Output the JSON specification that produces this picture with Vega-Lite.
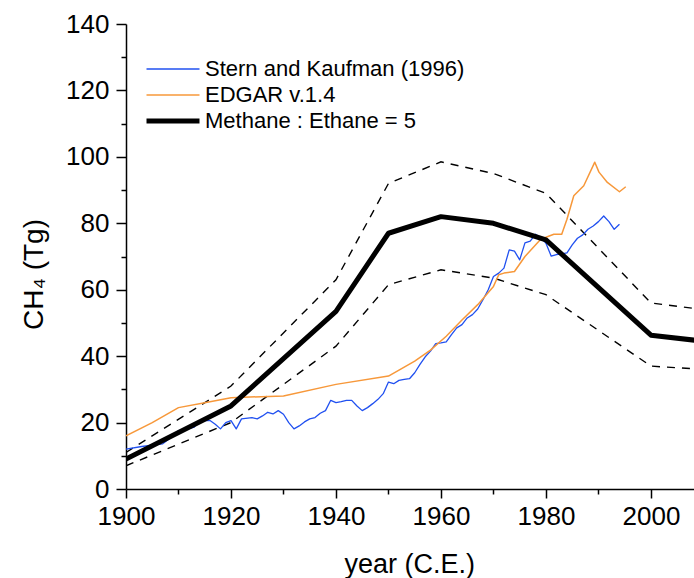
{
  "$schema": "https://vega.github.io/schema/vega-lite/v6.json",
  "width": 568,
  "height": 465,
  "autosize": {"type": "none"},
  "padding": {"left": 126, "top": 24, "right": 0, "bottom": 89},
  "background": "white",
  "config": {
    "view": {"stroke": null},
    "font": "Liberation Sans",
    "axis": {
      "grid": false,
      "domainColor": "black",
      "domainWidth": 1.5,
      "tickColor": "black",
      "tickWidth": 1.5,
      "labelFont": "Liberation Sans",
      "labelFontSize": 26,
      "labelColor": "black",
      "titleFont": "Liberation Sans",
      "titleFontSize": 27,
      "titleFontWeight": "normal",
      "titleColor": "black"
    }
  },
  "datasets": {
    "series": [
      {"series": "Stern and Kaufman (1996)", "year": 1900, "value": 12},
      {"series": "Stern and Kaufman (1996)", "year": 1903, "value": 12.8},
      {"series": "Stern and Kaufman (1996)", "year": 1905, "value": 13.2},
      {"series": "Stern and Kaufman (1996)", "year": 1907, "value": 13.6},
      {"series": "Stern and Kaufman (1996)", "year": 1909, "value": 16},
      {"series": "Stern and Kaufman (1996)", "year": 1910, "value": 17.6},
      {"series": "Stern and Kaufman (1996)", "year": 1912, "value": 18.2},
      {"series": "Stern and Kaufman (1996)", "year": 1913, "value": 18.6},
      {"series": "Stern and Kaufman (1996)", "year": 1914, "value": 20.6},
      {"series": "Stern and Kaufman (1996)", "year": 1916, "value": 20.6},
      {"series": "Stern and Kaufman (1996)", "year": 1917, "value": 19.5},
      {"series": "Stern and Kaufman (1996)", "year": 1918, "value": 18.1},
      {"series": "Stern and Kaufman (1996)", "year": 1919, "value": 20},
      {"series": "Stern and Kaufman (1996)", "year": 1920, "value": 20.6},
      {"series": "Stern and Kaufman (1996)", "year": 1921, "value": 18.1},
      {"series": "Stern and Kaufman (1996)", "year": 1922, "value": 21.1},
      {"series": "Stern and Kaufman (1996)", "year": 1924, "value": 21.5},
      {"series": "Stern and Kaufman (1996)", "year": 1925, "value": 21.1},
      {"series": "Stern and Kaufman (1996)", "year": 1926, "value": 22},
      {"series": "Stern and Kaufman (1996)", "year": 1927, "value": 23.1},
      {"series": "Stern and Kaufman (1996)", "year": 1928, "value": 22.6},
      {"series": "Stern and Kaufman (1996)", "year": 1929, "value": 23.6},
      {"series": "Stern and Kaufman (1996)", "year": 1930, "value": 22.5},
      {"series": "Stern and Kaufman (1996)", "year": 1931, "value": 20},
      {"series": "Stern and Kaufman (1996)", "year": 1932, "value": 18.1},
      {"series": "Stern and Kaufman (1996)", "year": 1933, "value": 19},
      {"series": "Stern and Kaufman (1996)", "year": 1934, "value": 20.2},
      {"series": "Stern and Kaufman (1996)", "year": 1935, "value": 21.1},
      {"series": "Stern and Kaufman (1996)", "year": 1936, "value": 21.5},
      {"series": "Stern and Kaufman (1996)", "year": 1937, "value": 22.8},
      {"series": "Stern and Kaufman (1996)", "year": 1938, "value": 23.6},
      {"series": "Stern and Kaufman (1996)", "year": 1939, "value": 26.7},
      {"series": "Stern and Kaufman (1996)", "year": 1940, "value": 26},
      {"series": "Stern and Kaufman (1996)", "year": 1941, "value": 26.3},
      {"series": "Stern and Kaufman (1996)", "year": 1942, "value": 26.7},
      {"series": "Stern and Kaufman (1996)", "year": 1943, "value": 26.7},
      {"series": "Stern and Kaufman (1996)", "year": 1944, "value": 25},
      {"series": "Stern and Kaufman (1996)", "year": 1945, "value": 23.6},
      {"series": "Stern and Kaufman (1996)", "year": 1946, "value": 24.5},
      {"series": "Stern and Kaufman (1996)", "year": 1947, "value": 25.7},
      {"series": "Stern and Kaufman (1996)", "year": 1948, "value": 27},
      {"series": "Stern and Kaufman (1996)", "year": 1949, "value": 28.7},
      {"series": "Stern and Kaufman (1996)", "year": 1950, "value": 32.2},
      {"series": "Stern and Kaufman (1996)", "year": 1951, "value": 31.7},
      {"series": "Stern and Kaufman (1996)", "year": 1952, "value": 32.7},
      {"series": "Stern and Kaufman (1996)", "year": 1953, "value": 33},
      {"series": "Stern and Kaufman (1996)", "year": 1954, "value": 33.2},
      {"series": "Stern and Kaufman (1996)", "year": 1955, "value": 35},
      {"series": "Stern and Kaufman (1996)", "year": 1956, "value": 37.5},
      {"series": "Stern and Kaufman (1996)", "year": 1957, "value": 39.8},
      {"series": "Stern and Kaufman (1996)", "year": 1958, "value": 41.5},
      {"series": "Stern and Kaufman (1996)", "year": 1959, "value": 43.8},
      {"series": "Stern and Kaufman (1996)", "year": 1960, "value": 44},
      {"series": "Stern and Kaufman (1996)", "year": 1961, "value": 44.3},
      {"series": "Stern and Kaufman (1996)", "year": 1962, "value": 46.5},
      {"series": "Stern and Kaufman (1996)", "year": 1963, "value": 48.5},
      {"series": "Stern and Kaufman (1996)", "year": 1964, "value": 49.5},
      {"series": "Stern and Kaufman (1996)", "year": 1965, "value": 51.5},
      {"series": "Stern and Kaufman (1996)", "year": 1966, "value": 52.5},
      {"series": "Stern and Kaufman (1996)", "year": 1967, "value": 54.2},
      {"series": "Stern and Kaufman (1996)", "year": 1968, "value": 57},
      {"series": "Stern and Kaufman (1996)", "year": 1969, "value": 60},
      {"series": "Stern and Kaufman (1996)", "year": 1970, "value": 64},
      {"series": "Stern and Kaufman (1996)", "year": 1971, "value": 65},
      {"series": "Stern and Kaufman (1996)", "year": 1972, "value": 66.5},
      {"series": "Stern and Kaufman (1996)", "year": 1973, "value": 72},
      {"series": "Stern and Kaufman (1996)", "year": 1974, "value": 71.6},
      {"series": "Stern and Kaufman (1996)", "year": 1975, "value": 69},
      {"series": "Stern and Kaufman (1996)", "year": 1976, "value": 74.1},
      {"series": "Stern and Kaufman (1996)", "year": 1977, "value": 74.6},
      {"series": "Stern and Kaufman (1996)", "year": 1978, "value": 76.7},
      {"series": "Stern and Kaufman (1996)", "year": 1979, "value": 75.7},
      {"series": "Stern and Kaufman (1996)", "year": 1980, "value": 74},
      {"series": "Stern and Kaufman (1996)", "year": 1981, "value": 70.1},
      {"series": "Stern and Kaufman (1996)", "year": 1982, "value": 70.6},
      {"series": "Stern and Kaufman (1996)", "year": 1983, "value": 70.8},
      {"series": "Stern and Kaufman (1996)", "year": 1984, "value": 71.1},
      {"series": "Stern and Kaufman (1996)", "year": 1985, "value": 73.5},
      {"series": "Stern and Kaufman (1996)", "year": 1986, "value": 75.5},
      {"series": "Stern and Kaufman (1996)", "year": 1987, "value": 76.5},
      {"series": "Stern and Kaufman (1996)", "year": 1988, "value": 78.2},
      {"series": "Stern and Kaufman (1996)", "year": 1989, "value": 79.2},
      {"series": "Stern and Kaufman (1996)", "year": 1990, "value": 80.5},
      {"series": "Stern and Kaufman (1996)", "year": 1991, "value": 82.2},
      {"series": "Stern and Kaufman (1996)", "year": 1992, "value": 80.5},
      {"series": "Stern and Kaufman (1996)", "year": 1993, "value": 78.2},
      {"series": "Stern and Kaufman (1996)", "year": 1994, "value": 79.7},
      {"series": "EDGAR v.1.4", "year": 1900, "value": 16},
      {"series": "EDGAR v.1.4", "year": 1905, "value": 20},
      {"series": "EDGAR v.1.4", "year": 1910, "value": 24.5},
      {"series": "EDGAR v.1.4", "year": 1915, "value": 26},
      {"series": "EDGAR v.1.4", "year": 1920, "value": 27.5},
      {"series": "EDGAR v.1.4", "year": 1930, "value": 28},
      {"series": "EDGAR v.1.4", "year": 1940, "value": 31.5},
      {"series": "EDGAR v.1.4", "year": 1950, "value": 34},
      {"series": "EDGAR v.1.4", "year": 1952, "value": 35.8},
      {"series": "EDGAR v.1.4", "year": 1955, "value": 38.5},
      {"series": "EDGAR v.1.4", "year": 1958, "value": 41.8},
      {"series": "EDGAR v.1.4", "year": 1961, "value": 46},
      {"series": "EDGAR v.1.4", "year": 1964, "value": 50.9},
      {"series": "EDGAR v.1.4", "year": 1967, "value": 55.5},
      {"series": "EDGAR v.1.4", "year": 1970, "value": 61},
      {"series": "EDGAR v.1.4", "year": 1971, "value": 64.5},
      {"series": "EDGAR v.1.4", "year": 1972, "value": 65},
      {"series": "EDGAR v.1.4", "year": 1974, "value": 65.5},
      {"series": "EDGAR v.1.4", "year": 1976, "value": 70},
      {"series": "EDGAR v.1.4", "year": 1979, "value": 75.2},
      {"series": "EDGAR v.1.4", "year": 1981.5, "value": 76.7},
      {"series": "EDGAR v.1.4", "year": 1983, "value": 76.7},
      {"series": "EDGAR v.1.4", "year": 1984, "value": 81.2},
      {"series": "EDGAR v.1.4", "year": 1985.3, "value": 88.3},
      {"series": "EDGAR v.1.4", "year": 1987.2, "value": 91.3},
      {"series": "EDGAR v.1.4", "year": 1989.3, "value": 98.4},
      {"series": "EDGAR v.1.4", "year": 1990.1, "value": 95.4},
      {"series": "EDGAR v.1.4", "year": 1991.7, "value": 92.3},
      {"series": "EDGAR v.1.4", "year": 1994, "value": 89.5},
      {"series": "EDGAR v.1.4", "year": 1995.2, "value": 91},
      {"series": "Methane : Ethane = 5", "year": 1900, "value": 9},
      {"series": "Methane : Ethane = 5", "year": 1920, "value": 25},
      {"series": "Methane : Ethane = 5", "year": 1940, "value": 53.5},
      {"series": "Methane : Ethane = 5", "year": 1950, "value": 77},
      {"series": "Methane : Ethane = 5", "year": 1960, "value": 82},
      {"series": "Methane : Ethane = 5", "year": 1970, "value": 80},
      {"series": "Methane : Ethane = 5", "year": 1980, "value": 75},
      {"series": "Methane : Ethane = 5", "year": 2000, "value": 46.3},
      {"series": "Methane : Ethane = 5", "year": 2010, "value": 44.5}
    ],
    "bounds": [
      {"bound": "upper", "year": 1900, "value": 11},
      {"bound": "upper", "year": 1920, "value": 31},
      {"bound": "upper", "year": 1940, "value": 63},
      {"bound": "upper", "year": 1950, "value": 92},
      {"bound": "upper", "year": 1960, "value": 98.5},
      {"bound": "upper", "year": 1970, "value": 95},
      {"bound": "upper", "year": 1980, "value": 89},
      {"bound": "upper", "year": 2000, "value": 56},
      {"bound": "upper", "year": 2010, "value": 54},
      {"bound": "lower", "year": 1900, "value": 7},
      {"bound": "lower", "year": 1920, "value": 20},
      {"bound": "lower", "year": 1940, "value": 43},
      {"bound": "lower", "year": 1950, "value": 61.5},
      {"bound": "lower", "year": 1960, "value": 66},
      {"bound": "lower", "year": 1970, "value": 63.5},
      {"bound": "lower", "year": 1980, "value": 58.5},
      {"bound": "lower", "year": 2000, "value": 37},
      {"bound": "lower", "year": 2010, "value": 36}
    ]
  },
  "encoding": {
    "x": {
      "field": "year",
      "type": "quantitative",
      "scale": {"domain": [1900, 2008.2], "nice": false, "zero": false},
      "axis": {
        "title": "year (C.E.)",
        "values": [1900, 1910, 1920, 1930, 1940, 1950, 1960, 1970, 1980, 1990, 2000],
        "format": "d",
        "labelExpr": "datum.value % 20 === 0 ? datum.label : ''",
        "tickSize": {"condition": {"test": "datum.value % 20 === 0", "value": 9}, "value": 5},
        "labelPadding": 5,
        "labelFlush": false,
        "labelOverlap": false,
        "titleAnchor": "start",
        "titleX": 218,
        "titleY": 83,
        "titleAlign": "left",
        "titleBaseline": "alphabetic"
      }
    },
    "y": {
      "field": "value",
      "type": "quantitative",
      "scale": {"domain": [0, 140], "nice": false},
      "axis": {
        "title": "CH₄ (Tg)",
        "values": [0, 10, 20, 30, 40, 50, 60, 70, 80, 90, 100, 110, 120, 130, 140],
        "labelExpr": "datum.value % 20 === 0 ? datum.label : ''",
        "tickSize": {"condition": {"test": "datum.value % 20 === 0", "value": 10}, "value": 5},
        "labelPadding": 7,
        "labelFlush": false,
        "labelOverlap": false,
        "titleFontSize": 28,
        "titleX": -84,
        "titleY": 250,
        "titleAlign": "center",
        "titleBaseline": "alphabetic",
        "titleAngle": -90
      }
    }
  },
  "layer": [
    {
      "data": {"name": "bounds"},
      "mark": {"type": "line", "color": "black", "strokeWidth": 1.4, "strokeDash": [8, 7], "clip": true},
      "encoding": {"detail": {"field": "bound", "type": "nominal"}}
    },
    {
      "data": {"name": "series"},
      "transform": [{"filter": "datum.series === 'Stern and Kaufman (1996)'"}],
      "mark": {"type": "line", "clip": true, "strokeWidth": 1.3, "strokeJoin": "round"},
      "encoding": {"color": {"field": "series", "type": "nominal"}}
    },
    {
      "data": {"name": "series"},
      "transform": [{"filter": "datum.series === 'EDGAR v.1.4'"}],
      "mark": {"type": "line", "clip": true, "strokeWidth": 1.5, "strokeJoin": "round"},
      "encoding": {"color": {"field": "series", "type": "nominal"}}
    },
    {
      "data": {"name": "series"},
      "transform": [{"filter": "datum.series === 'Methane : Ethane = 5'"}],
      "mark": {"type": "line", "clip": true, "strokeWidth": 5, "strokeJoin": "round"},
      "encoding": {
        "color": {
          "field": "series",
          "type": "nominal",
          "scale": {
            "domain": ["Stern and Kaufman (1996)", "EDGAR v.1.4", "Methane : Ethane = 5"],
            "range": ["#2050f0", "#f7983a", "#000000"]
          },
          "legend": {
            "title": null,
            "orient": "none",
            "legendX": 36,
            "legendY": 34,
            "symbolType": "M-3,0H3",
            "symbolSize": 312,
            "labelOffset": 21,
            "labelFont": "Liberation Sans",
            "labelFontSize": 22,
            "labelColor": "black",
            "labelLimit": 0,
            "rowPadding": 4,
            "padding": 0,
            "encode": {
              "symbols": {
                "update": {
                  "strokeWidth": {"signal": "datum.value === 'Methane : Ethane = 5' ? 5 : 1.5"}
                }
              }
            }
          }
        }
      }
    }
  ]
}
